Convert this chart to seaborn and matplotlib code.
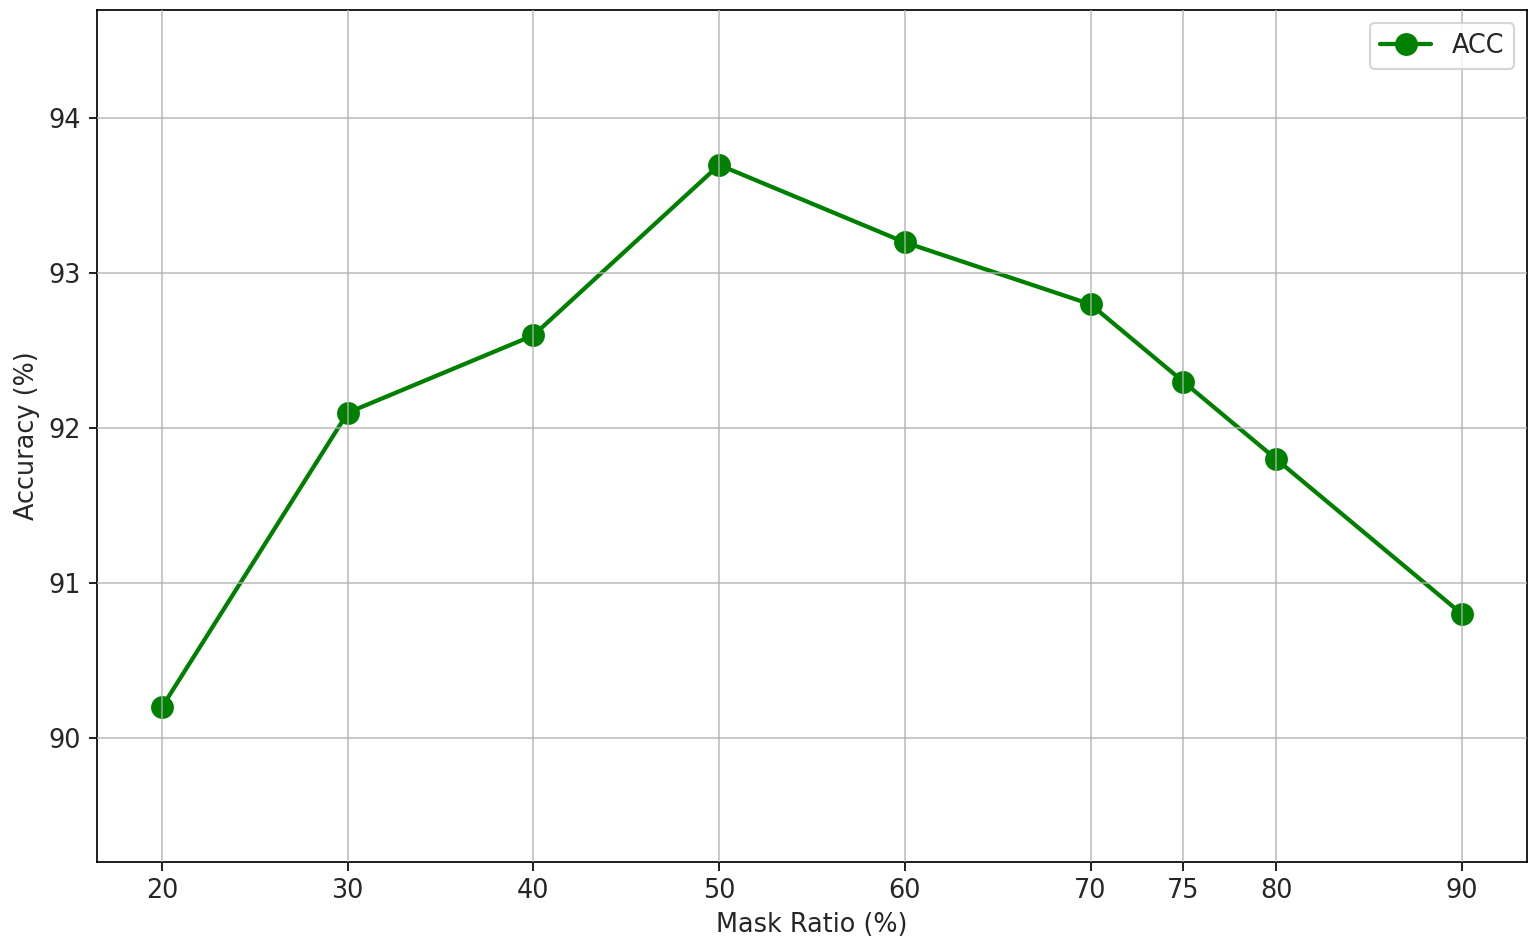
import matplotlib
matplotlib.use("Agg")
import matplotlib.pyplot as plt
import pandas as pd
import seaborn as sns

mask_ratio = [20, 30, 40, 50, 60, 70, 75, 80, 90]
accuracy = [90.2, 92.1, 92.6, 93.7, 93.2, 92.8, 92.3, 91.8, 90.8]
y_ticks = [90, 91, 92, 93, 94]


def plot_mask_ratio(filename: str):
    sns.set_style("white")
    plt.rcParams["font.family"] = ["DejaVu Sans"]
    df = pd.DataFrame({"mask_ratio": mask_ratio, "accuracy": accuracy})

    fig = plt.figure(figsize=(1535 / 153, 947 / 153), dpi=153)
    ax = fig.add_axes([0.0632, 0.0898, 0.9316, 0.8996])
    sns.lineplot(data=df, x="mask_ratio", y="accuracy", ax=ax, color="green",
                 marker="o", markersize=10, markeredgecolor="green",
                 linewidth=2, label="ACC")
    ax.set_xticks(mask_ratio)
    ax.set_yticks(y_ticks)
    ax.set_ylim(89.2, 94.7)
    ax.set_xlabel("Mask Ratio (%)", fontsize=12)
    ax.set_ylabel("Accuracy (%)", fontsize=12)
    ax.tick_params(axis="both", labelsize=12, length=4, width=0.8,
                   color="black", left=True, bottom=True, labelcolor="#262626")
    ax.set_axisbelow(False)
    ax.grid(True, color="#b0b0b0", linewidth=0.8, alpha=0.8)
    for s in ax.spines.values():
        s.set_color("black")
        s.set_linewidth(0.8)
    ax.legend(loc="upper right", fontsize=12, frameon=True)
    fig.savefig(filename, dpi=153)
    plt.close(fig)


plot_mask_ratio("out.png")
